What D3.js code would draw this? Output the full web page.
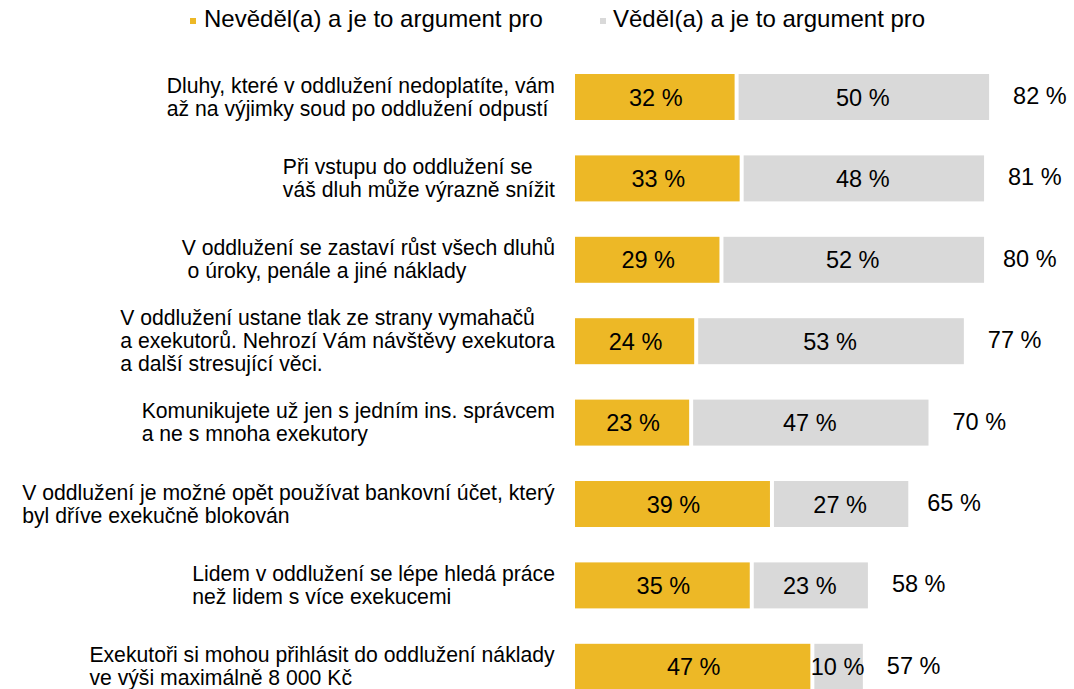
<!DOCTYPE html>
<html>
<head>
<meta charset="utf-8">
<script src="https://cdn.jsdelivr.net/npm/d3@7"></script>
<style>
  body { margin: 0; background: #fff; }
  svg text { font-family: "Liberation Sans", Arial, sans-serif; fill: #000; }
</style>
</head>
<body>
<div id="chart"></div>
<script>
(function() {
    var width = 1074;
    var height = 689;

    // data
    var categories = [
        ["Dluhy, které v oddlužení nedoplatíte, vám", "až na výjimky soud po oddlužení odpustí"],
        ["Při vstupu do oddlužení se", "váš dluh může výrazně snížit"],
        ["V oddlužení se zastaví růst všech dluhů", " o úroky, penále a jiné náklady"],
        ["V oddlužení ustane tlak ze strany vymahačů", "a exekutorů. Nehrozí Vám návštěvy exekutora", "a další stresující věci."],
        ["Komunikujete už jen s jedním ins. správcem", "a ne s mnoha exekutory"],
        ["V oddlužení je možné opět používat bankovní účet, který", "byl dříve exekučně blokován"],
        ["Lidem v oddlužení se lépe hledá práce", "než lidem s více exekucemi"],
        ["Exekutoři si mohou přihlásit do oddlužení náklady", "ve výši maximálně 8 000 Kč"]
    ];
    var nevedel = [32, 33, 29, 24, 23, 39, 35, 47];
    var vedel   = [50, 48, 52, 53, 47, 27, 23, 10];
    var totals  = [82, 81, 80, 77, 70, 65, 58, 57];
    var seriesNames = ["Nevěděl(a) a je to argument pro", "Věděl(a) a je to argument pro"];
    var colors = ["#EDB826", "#D9D9D9"];

    var svg = d3.select("#chart").append("svg")
        .attr("width", width)
        .attr("height", height);

    var x = d3.scaleLinear().domain([0, 100]).range([575, 1080]);
    var y = d3.scaleBand()
        .domain(d3.range(categories.length))
        .range([56.3, 56.3 + 8 * 81.4])
        .paddingInner(0.435)
        .paddingOuter(0.2175);

    var rows = categories.map(function(c, i) {
        return { i: i, lines: c, a: nevedel[i], b: vedel[i], total: totals[i] };
    });

    var gap = 2;

    var row = svg.selectAll(".row")
        .data(rows)
        .enter()
        .append("g")
        .attr("class", "row");

    // yellow segment
    row.append("rect")
        .attr("x", x(0))
        .attr("y", function(d) { return y(d.i); })
        .attr("width", function(d) { return x(d.a) - x(0) - gap; })
        .attr("height", y.bandwidth())
        .attr("fill", colors[0]);

    // gray segment
    row.append("rect")
        .attr("x", function(d) { return x(d.a) + gap; })
        .attr("y", function(d) { return y(d.i); })
        .attr("width", function(d) { return x(d.a + d.b) - x(d.a) - gap; })
        .attr("height", y.bandwidth())
        .attr("fill", colors[1]);

    // value labels
    row.append("text")
        .attr("x", function(d) { return (x(0) + x(d.a)) / 2; })
        .attr("y", function(d) { return y(d.i) + y.bandwidth() / 2 + 8.5; })
        .attr("text-anchor", "middle")
        .attr("font-size", "23.5px")
        .text(function(d) { return d.a + " %"; });

    row.append("text")
        .attr("x", function(d) { return (x(d.a) + x(d.a + d.b)) / 2; })
        .attr("y", function(d) { return y(d.i) + y.bandwidth() / 2 + 8.5; })
        .attr("text-anchor", "middle")
        .attr("font-size", "23.5px")
        .text(function(d) { return d.b + " %"; });

    // totals
    row.append("text")
        .attr("x", function(d) { return x(d.total) + 24; })
        .attr("y", function(d) { return y(d.i) + y.bandwidth() / 2 + 7; })
        .attr("font-size", "23.5px")
        .text(function(d) { return d.total + " %"; });

    // category labels: left aligned block, pushed against the bars
    var lineH = 23;
    row.each(function(d) {
        var cy = y(d.i) + y.bandwidth() / 2;
        var t = d3.select(this).append("text")
            .attr("font-size", "21.2px")
            .style("white-space", "pre");
        t.selectAll("tspan")
            .data(d.lines)
            .enter()
            .append("tspan")
            .attr("x", 0)
            .attr("y", function(l, k) { return cy + 7 + (k - (d.lines.length - 1) / 2) * lineH; })
            .text(function(l) { return l; });
        var w = t.node().getBBox().width;
        t.attr("transform", "translate(" + (555 - w) + ",0)");
    });

    // legend
    var legendX = [190, 600];
    var legend = svg.selectAll(".legend")
        .data(seriesNames)
        .enter()
        .append("g")
        .attr("class", "legend")
        .attr("transform", function(d, i) { return "translate(" + legendX[i] + ",0)"; });

    legend.append("rect")
        .attr("x", 0)
        .attr("y", 18)
        .attr("width", 6)
        .attr("height", 6)
        .attr("fill", function(d, i) { return colors[i]; });

    legend.append("text")
        .attr("x", function(d, i) { return i === 0 ? 14 : 13; })
        .attr("y", 27)
        .attr("font-size", "24px")
        .text(function(d) { return d; });
})();
</script>
</body>
</html>
